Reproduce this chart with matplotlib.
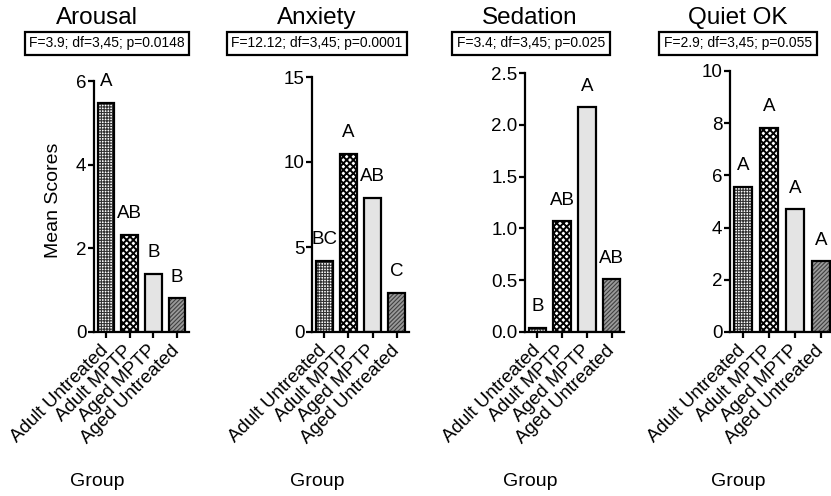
import matplotlib
matplotlib.use("Agg")
import matplotlib.pyplot as plt

plt.rcParams['font.family'] = ['Liberation Sans', 'DejaVu Sans']

groups = ['Adult Untreated', 'Adult MPTP', 'Aged MPTP', 'Aged Untreated']

titles = ['Arousal', 'Anxiety', 'Sedation', 'Quiet OK']
stats = ['F=3.9; df=3,45; p=0.0148',
         'F=12.12; df=3,45; p=0.0001',
         'F=3.4; df=3,45; p=0.025',
         'F=2.9; df=3,45; p=0.055']

arousal = [5.48, 2.32, 1.39, 0.81]
anxiety = [4.18, 10.5, 7.9, 2.3]
sedation = [0.04, 1.07, 2.17, 0.51]
quiet_ok = [5.56, 7.82, 4.71, 2.72]

arousal_letters = ['A', 'AB', 'B', 'B']
anxiety_letters = ['BC', 'A', 'AB', 'C']
sedation_letters = ['B', 'AB', 'A', 'AB']
quiet_letters = ['A', 'A', 'A', 'A']

y_max = [6, 15, 2.5, 10]
y_step = [2, 5, 0.5, 2]

# bar styles: face, hatch, hatch colour, hatch width
faces = ['white', 'white', '#e4e4e4', '#9a9a9a']
hatches = ['++++++', 'xxxxx', None, '////////']
hatch_cols = ['#333333', 'black', None, '#404040']
hatch_lws = [0.8, 1.4, 0.5, 0.8]

W, H = 831, 496
fig = plt.figure(figsize=(W / 100, H / 100), dpi=100)

# layout in pixels: left spine, width, top of y axis
lefts = [94, 312, 525, 730]
widths = [95, 97, 99, 104]
tops = [81, 77, 73, 71]
bottom_px = 332
text_x = [97, 317, 530, 738]
box_x = [107, 317, 531, 738]

values = [arousal, anxiety, sedation, quiet_ok]
letters = [arousal_letters, anxiety_letters, sedation_letters, quiet_letters]

for i in range(4):
    rect = [lefts[i] / W, (H - bottom_px) / H, widths[i] / W, (bottom_px - tops[i]) / H]
    ax = fig.add_axes(rect)
    x = list(range(len(groups)))
    for j in x:
        plt.rcParams['hatch.linewidth'] = hatch_lws[j]
        b = ax.bar(j, values[i][j], width=0.7, color=faces[j],
                   edgecolor=hatch_cols[j] if hatch_cols[j] else faces[j],
                   hatch=hatches[j], linewidth=0, zorder=2)
        for p in b:
            if hasattr(p, 'set_hatch_linewidth'):
                p.set_hatch_linewidth(hatch_lws[j])
        ax.bar(j, values[i][j], width=0.7, fill=False, edgecolor='black',
               linewidth=1.6, zorder=3)
        ax.annotate(letters[i][j], (j, values[i][j]), xytext=(0, 9),
                    textcoords='offset points', ha='center', va='bottom',
                    fontsize=13.5)
    ax.set_xlim(-0.5, 3.5)
    ax.set_ylim(0, y_max[i])
    ticks = [k * y_step[i] for k in range(int(round(y_max[i] / y_step[i])) + 1)]
    ax.set_yticks(ticks)
    if y_step[i] < 1:
        ax.set_yticklabels([f'{t:.1f}' for t in ticks])
    else:
        ax.set_yticklabels([f'{t:g}' for t in ticks])
    ax.set_xticks(x)
    ax.set_xticklabels(groups, rotation=45, ha='right', va='center',
                       rotation_mode='anchor', fontsize=13.5)
    for s in ['top', 'right']:
        ax.spines[s].set_visible(False)
    for s in ['left', 'bottom']:
        ax.spines[s].set_linewidth(1.6)
    ax.tick_params(axis='both', width=1.6, length=4.5, labelsize=13.5)
    ax.tick_params(axis='y', pad=1)
    ax.tick_params(axis='x', pad=7)
    ax.patch.set_alpha(0)

    fig.text(text_x[i] / W, 1 - 18 / H, titles[i], ha='center', va='center',
             fontsize=17.5)
    fig.text(box_x[i] / W, 1 - 43.5 / H, stats[i], ha='center', va='center',
             fontsize=10,
             bbox=dict(boxstyle='square,pad=0.32', fc='white', ec='black', lw=1.6))
    fig.text(text_x[i] / W, 1 - 482 / H, 'Group', ha='center', va='center',
             fontsize=14)

fig.text(54 / W, 1 - 200 / H, 'Mean Scores', rotation=90, ha='center',
         va='center', fontsize=14)

fig.savefig('out.png', dpi=100)
